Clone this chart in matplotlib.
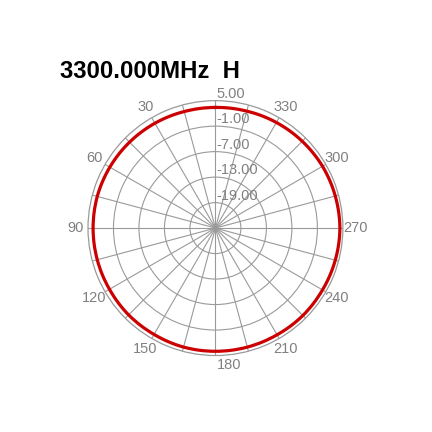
import numpy as np
import matplotlib
matplotlib.use("Agg")
import matplotlib.pyplot as plt
from matplotlib.transforms import ScaledTranslation

title = "3300.000MHz  H"
angles_deg = [0, 15, 30, 45, 60, 75, 90, 105, 120, 135, 150, 165,
              180, 195, 210, 225, 240, 255, 270, 285, 300, 315, 330, 345]
gain_db = [3.4, 3.4, 3.5, 3.6, 3.7, 3.8, 3.8, 3.8, 3.8, 3.9, 3.9, 4.0,
           4.0, 4.0, 4.0, 4.1, 4.1, 4.2, 4.3, 4.2, 4.1, 3.9, 3.7, 3.5]
r_min, r_max = -25, 5
r_ticks = [5, -1, -7, -13, -19]
theta_label_deg = [30, 60, 90, 120, 150, 180, 210, 240, 270, 300, 330]

grey = "#808080"
gridc = "#9a9a9a"

fig = plt.figure(figsize=(4.32, 4.32), dpi=100)
ax = fig.add_axes([0.2037, 0.177, 0.590, 0.590], projection="polar")
ax.set_theta_zero_location("N")
ax.set_theta_direction(1)
ax.set_ylim(r_min, r_max)

ax.set_xticks(np.radians(np.arange(0, 360, 15)))
ax.set_xticklabels([])
ax.set_yticks(r_ticks[1:])
ax.set_yticklabels([])
ax.grid(True, color=gridc, linewidth=0.8, linestyle="-")
ax.spines["polar"].set_color(gridc)
ax.spines["polar"].set_linewidth(0.9)
ax.tick_params(length=0)

# close the loop at 360 degrees so the last segment runs forward
th = np.radians(angles_deg + [angles_deg[0] + 360])
rr = gain_db + [gain_db[0]]
line, = ax.plot(th, rr, color="#cc0000", linewidth=2.3, zorder=5)
# draw each segment as a smooth arc in polar space
line.get_path()._interpolation_steps = 40

font = "Liberation Sans"
off = ScaledTranslation(1 / 100, 7 / 100, fig.dpi_scale_trans)
for v in r_ticks:
    ax.text(0, v, f"{v:.2f}", transform=ax.transData + off, ha="left", va="center",
            fontsize=10.5, color=grey, family=font, clip_on=False, zorder=6)

r_lab = r_max + 2.9
for a in theta_label_deg:
    if a == 180:
        ax.text(np.radians(a), r_lab - 0.7, str(a),
                transform=ax.transData + ScaledTranslation(1 / 100, 0, fig.dpi_scale_trans),
                ha="left", va="center", fontsize=10.5, color=grey, family=font, clip_on=False)
    else:
        ax.text(np.radians(a), r_lab, str(a), ha="center", va="center",
                fontsize=10.5, color=grey, family=font, clip_on=False)

fig.text(0.139, 0.820, title, ha="left", va="baseline", fontsize=17.2,
         fontweight="bold", family=font, color="black")

fig.savefig("out.png", dpi=100, facecolor="white")
